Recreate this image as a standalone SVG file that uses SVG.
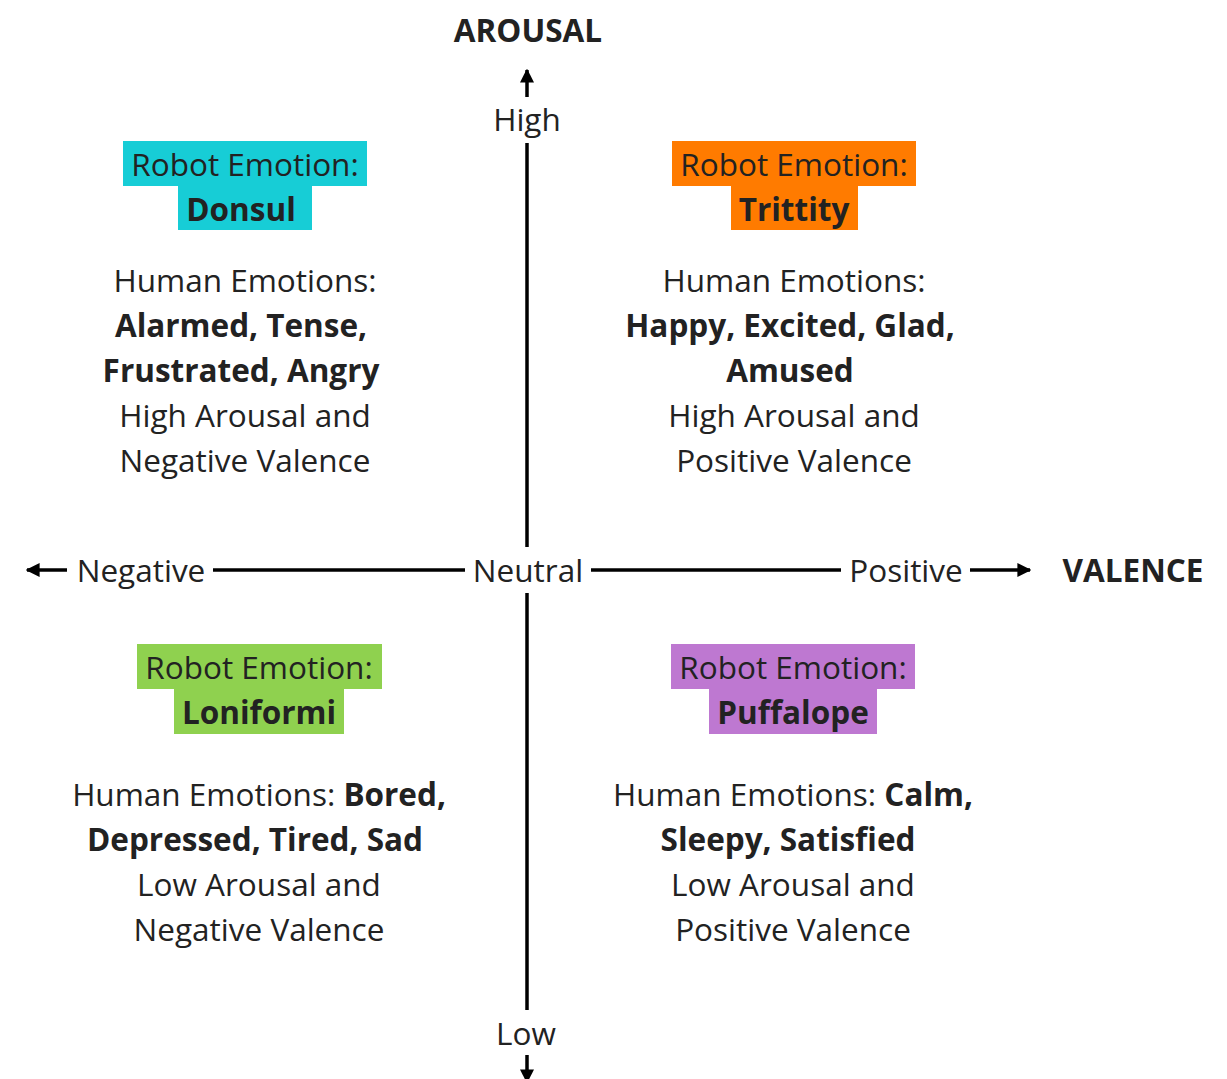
<svg xmlns="http://www.w3.org/2000/svg" width="1227" height="1079" viewBox="0 0 1227 1079">
  <style>
    text { font-family: "Open Sans", "Noto Sans", "Liberation Sans", sans-serif; font-size: 31.5px; fill: #222; text-anchor: middle; }
    .b { font-weight: bold; }
    .axis { stroke: #000; stroke-width: 3.5; fill: none; }
  </style>
  <defs>
    <marker id="head" viewBox="0 0 10 10" refX="9" refY="5" markerWidth="14" markerHeight="14" markerUnits="userSpaceOnUse" orient="auto">
      <path d="M0,0 L10,5 L0,10 z" fill="#000"/>
    </marker>
  </defs>

  <rect width="1227" height="1079" fill="#fff"/>

  <!-- axes -->
  <g id="connectors">
    <line class="axis" x1="527" y1="97" x2="527" y2="70" marker-end="url(#head)"/>
    <line class="axis" x1="527" y1="143" x2="527" y2="547"/>
    <line class="axis" x1="527" y1="593" x2="527" y2="1010"/>
    <line class="axis" x1="527" y1="1055" x2="527" y2="1082" marker-end="url(#head)"/>
    <line class="axis" x1="67" y1="570" x2="27" y2="570" marker-end="url(#head)"/>
    <line class="axis" x1="213" y1="570" x2="465" y2="570"/>
    <line class="axis" x1="591" y1="570" x2="841" y2="570"/>
    <line class="axis" x1="970" y1="570" x2="1030" y2="570" marker-end="url(#head)"/>
  </g>

  <!-- axis labels -->
  <g id="axis-labels">
    <text class="b" x="528" y="42">AROUSAL</text>
    <text x="527" y="131">High</text>
    <text x="526" y="1045">Low</text>
    <text x="141" y="582">Negative</text>
    <text x="528" y="582">Neutral</text>
    <text x="906" y="582">Positive</text>
    <text class="b" x="1133" y="582">VALENCE</text>
  </g>

  <!-- high arousal, negative valence -->
  <g id="donsul">
    <rect x="123" y="141" width="244" height="45" fill="#17CDD6"/>
    <rect x="178" y="186" width="134" height="44" fill="#17CDD6"/>
    <text x="245" y="176">Robot Emotion:</text>
    <text class="b" x="241" y="221">Donsul</text>
    <text x="245" y="292">Human Emotions:</text>
    <text class="b" x="241" y="337">Alarmed, Tense,</text>
    <text class="b" x="241" y="382">Frustrated, Angry</text>
    <text x="245" y="427">High Arousal and</text>
    <text x="245" y="472">Negative Valence</text>
  </g>

  <!-- high arousal, positive valence -->
  <g id="trittity">
    <rect x="672" y="141" width="244" height="45" fill="#FF7B00"/>
    <rect x="731" y="186" width="127" height="44" fill="#FF7B00"/>
    <text x="794" y="176">Robot Emotion:</text>
    <text class="b" x="794" y="221">Trittity</text>
    <text x="794" y="292">Human Emotions:</text>
    <text class="b" x="790" y="337">Happy, Excited, Glad,</text>
    <text class="b" x="790" y="382">Amused</text>
    <text x="794" y="427">High Arousal and</text>
    <text x="794" y="472">Positive Valence</text>
  </g>

  <!-- low arousal, negative valence -->
  <g id="loniformi">
    <rect x="137" y="644" width="245" height="45" fill="#8FD14F"/>
    <rect x="174" y="689" width="170" height="45" fill="#8FD14F"/>
    <text x="259" y="679">Robot Emotion:</text>
    <text class="b" x="259" y="724">Loniformi</text>
    <text x="259" y="806">Human Emotions: <tspan class="b">Bored,</tspan></text>
    <text class="b" x="255" y="851">Depressed, Tired, Sad</text>
    <text x="259" y="896">Low Arousal and</text>
    <text x="259" y="941">Negative Valence</text>
  </g>

  <!-- low arousal, positive valence -->
  <g id="puffalope">
    <rect x="671" y="644" width="244" height="45" fill="#BE78D1"/>
    <rect x="709" y="689" width="168" height="45" fill="#BE78D1"/>
    <text x="793" y="679">Robot Emotion:</text>
    <text class="b" x="793" y="724">Puffalope</text>
    <text x="793" y="806">Human Emotions: <tspan class="b">Calm,</tspan></text>
    <text class="b" x="788" y="851">Sleepy, Satisfied</text>
    <text x="793" y="896">Low Arousal and</text>
    <text x="793" y="941">Positive Valence</text>
  </g>
</svg>
